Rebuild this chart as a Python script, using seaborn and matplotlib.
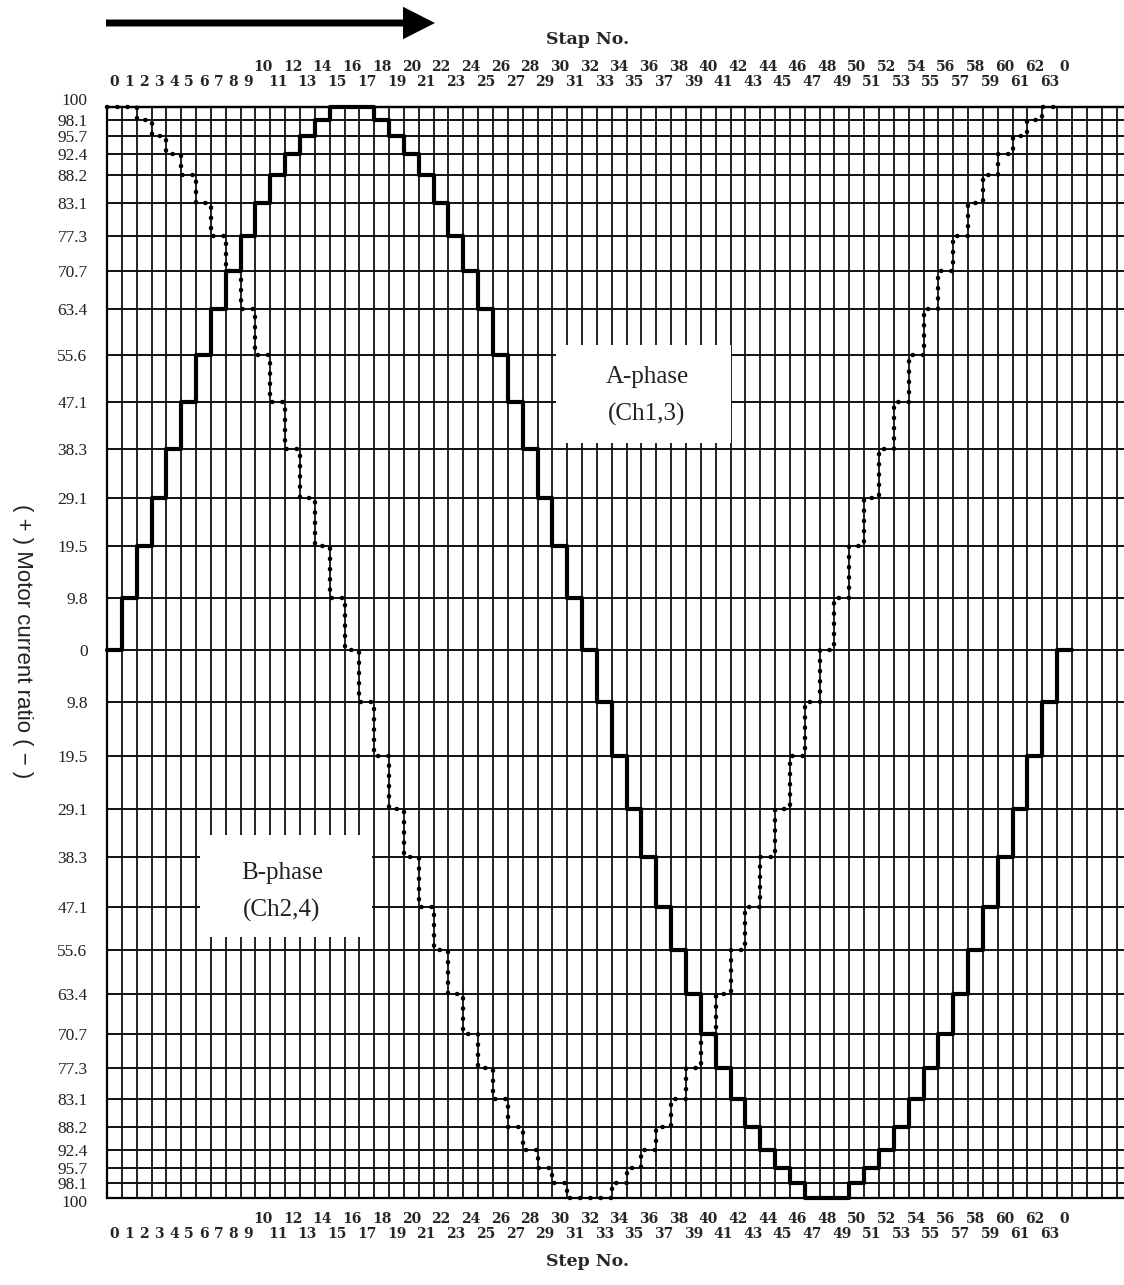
import numpy as np
import pandas as pd
import matplotlib
matplotlib.use('Agg')
import matplotlib.pyplot as plt
import matplotlib.transforms as mtransforms
import seaborn as sns
from matplotlib.patches import Rectangle

# --- Data ---
# current levels shown on the y axis (same on + and - side)
LEVELS = [0, 9.8, 19.5, 29.1, 38.3, 47.1, 55.6, 63.4, 70.7, 77.3, 83.1, 88.2,
          92.4, 95.7, 98.1, 100]
LEVEL_LABELS = ['0', '9.8', '19.5', '29.1', '38.3', '47.1', '55.6', '63.4', '70.7',
                '77.3', '83.1', '88.2', '92.4', '95.7', '98.1', '100']

# A-phase (Ch1,3), one value per step column 0..63 and back to step 0
A_PHASE = [0, 9.8, 19.5, 29.1, 38.3, 47.1, 55.6, 63.4, 70.7, 77.3, 83.1, 88.2, 92.4,
           95.7, 98.1, 100, 100, 100, 98.1, 95.7, 92.4, 88.2, 83.1, 77.3, 70.7, 63.4,
           55.6, 47.1, 38.3, 29.1, 19.5, 9.8, 0, -9.8, -19.5, -29.1, -38.3, -47.1,
           -55.6, -63.4, -70.7, -77.3, -83.1, -88.2, -92.4, -95.7, -98.1, -100, -100,
           -100, -98.1, -95.7, -92.4, -88.2, -83.1, -77.3, -70.7, -63.4, -55.6, -47.1,
           -38.3, -29.1, -19.5, -9.8, 0]

# B-phase (Ch2,4), step columns 0..63
B_PHASE = [100, 100, 98.1, 95.7, 92.4, 88.2, 83.1, 77.3, 70.7, 63.4, 55.6, 47.1, 38.3,
           29.1, 19.5, 9.8, 0, -9.8, -19.5, -29.1, -38.3, -47.1, -55.6, -63.4, -70.7,
           -77.3, -83.1, -88.2, -92.4, -95.7, -98.1, -100, -100, -100, -98.1, -95.7,
           -92.4, -88.2, -83.1, -77.3, -70.7, -63.4, -55.6, -47.1, -38.3, -29.1, -19.5,
           -9.8, 0, 9.8, 19.5, 29.1, 38.3, 47.1, 55.6, 63.4, 70.7, 77.3, 83.1, 88.2,
           92.4, 95.7, 98.1, 100]

# step number labels (64 steps then back to 0)
STEP_LABELS = [str(i) for i in range(64)] + ['0']
N_GRID_COLS = 68

# --- Layout ---
W, H = 1124, 1285
AX_L, AX_R, AX_T, AX_B = 107, 1124, 107, 1198
# the printed grid is not evenly spaced: pixel row of each level line, bottom (-100) to top (+100)
Y_LINE_PX = [1198, 1183, 1168, 1150, 1127, 1099, 1068, 1034, 994, 950, 907, 857, 809,
             756, 702, 650, 598, 546, 498, 449, 402, 355, 309, 271, 236, 203, 175, 154,
             136, 120, 107]


def step_frame(values):
    """Step table with the closing edge so steps-post draws the last column."""
    x = list(range(len(values))) + [len(values)]
    y = list(values) + [values[-1]]
    return pd.DataFrame({'step': x, 'ratio': y})


def px_to_axes(x, y):
    return (x - AX_L) / (AX_R - AX_L), (AX_B - y) / (AX_B - AX_T)


yticks = [-v for v in LEVELS[:0:-1]] + LEVELS
ylabels = LEVEL_LABELS[:0:-1] + LEVEL_LABELS

# piecewise linear y scale matching the printed grid
_v = np.array([-1000.0] + yticks + [1000.0])
_p = np.array([AX_B - y for y in Y_LINE_PX], dtype=float)
_p = np.concatenate([[_p[0] - 900 * 5.45], _p, [_p[-1] + 900 * 5.45]])


def y_forward(v):
    return np.interp(v, _v, _p)


def y_inverse(p):
    return np.interp(p, _p, _v)


sns.set_theme(style='white')
plt.rcParams['font.family'] = ['Liberation Serif', 'DejaVu Serif']

fig = plt.figure(figsize=(W / 100, H / 100), dpi=100)
ax = fig.add_axes([AX_L / W, 1 - AX_B / H, (AX_R - AX_L) / W, (AX_B - AX_T) / H])
ax.set_yscale('function', functions=(y_forward, y_inverse))

# grid
ax.vlines(np.arange(0, N_GRID_COLS + 1), -100, 100, colors='#111111', lw=1.3, zorder=1)
ax.set_yticks(yticks, ylabels, fontsize=12.5, fontfamily='Liberation Serif')
ax.yaxis.set_minor_locator(matplotlib.ticker.NullLocator())
ax.grid(axis='y', which='major', color='#111111', lw=1.4)
ax.tick_params(axis='y', length=0, pad=14, colors='#222222')

# the outer "100" labels sit a little off the border line, as printed
ylab = ax.get_yticklabels()
ylab[-1].set_transform(ylab[-1].get_transform() +
                       mtransforms.ScaledTranslation(0, 6 / 72, fig.dpi_scale_trans))
ylab[0].set_transform(ylab[0].get_transform() +
                      mtransforms.ScaledTranslation(0, -2 / 72, fig.dpi_scale_trans))

# white label boxes
for (x0, y0, x1, y1) in [(556, 345, 731, 443), (200, 835, 372, 937)]:
    ax0, ay0 = px_to_axes(x0, y1)
    ax1, ay1 = px_to_axes(x1, y0)
    ax.add_patch(Rectangle((ax0, ay0), ax1 - ax0, ay1 - ay0, transform=ax.transAxes,
                           facecolor='white', edgecolor='none', zorder=2))
ax.text(*px_to_axes(647, 396), 'A-phase\n(Ch1,3)', transform=ax.transAxes,
        ha='center', va='center', fontsize=18, linespacing=1.85, color='#222222', zorder=4)
ax.text(*px_to_axes(282, 892), 'B-phase\n(Ch2,4)', transform=ax.transAxes,
        ha='center', va='center', fontsize=18, linespacing=1.85, color='#222222', zorder=4)

# curves
sns.lineplot(data=step_frame(A_PHASE), x='step', y='ratio', drawstyle='steps-post',
             color='black', lw=3, ax=ax, clip_on=False, zorder=5)
sns.lineplot(data=step_frame(B_PHASE), x='step', y='ratio', drawstyle='steps-post',
             color='black', lw=3.2, linestyle=(0, (0.1, 2.2)), dash_capstyle='round',
             ax=ax, clip_on=False, zorder=5)

ax.set_xlim(0, N_GRID_COLS + 0.5)
ax.set_ylim(-100, 100)
ax.set_xlabel('')
ax.set_ylabel('')

# step number labels in two staggered rows
centers = np.arange(len(STEP_LABELS)) + 0.5
upper = [i for i in range(len(STEP_LABELS)) if (i >= 10 and i % 2 == 0)]
lower = [i for i in range(len(STEP_LABELS)) if i not in upper]
lab_kw = dict(fontsize=10, fontweight='bold', fontfamily='DejaVu Serif')

ax.set_xticks(centers[upper], [STEP_LABELS[i] for i in upper], **lab_kw)
ax.set_xticks(centers[lower], [STEP_LABELS[i] for i in lower], minor=True, **lab_kw)
ax.tick_params(axis='x', which='major', length=0, pad=10)
ax.tick_params(axis='x', which='minor', length=0, pad=21)

top = ax.secondary_xaxis('top')
top.set_xticks(centers[lower], [STEP_LABELS[i] for i in lower], **lab_kw)
top.set_xticks(centers[upper], [STEP_LABELS[i] for i in upper], minor=True, **lab_kw)
top.tick_params(axis='x', which='major', length=0, pad=13)
top.tick_params(axis='x', which='minor', length=0, pad=24)

for side in ['left', 'bottom', 'top']:
    ax.spines[side].set_color('black')
    ax.spines[side].set_linewidth(1.6)
ax.spines['right'].set_visible(False)
top.spines['top'].set_linewidth(1.6)
top.spines['top'].set_color('black')

fig.text(588 / W, 1 - 40 / H, 'Stap No.', ha='center', va='center', fontsize=12.5,
         fontweight='bold', fontfamily='DejaVu Serif')
fig.text(588 / W, 1 - 1262 / H, 'Step No.', ha='center', va='center', fontsize=12.5,
         fontweight='bold', fontfamily='DejaVu Serif')
fig.text(22 / W, 1 - 641 / H, '( + ) Motor current ratio ( \u2212 )', rotation=270,
         ha='center', va='center', fontsize=16, fontfamily='Liberation Sans', color='#222222')

# direction arrow
ax.annotate('', xy=(435 / W, 1 - 23 / H), xytext=(106 / W, 1 - 23 / H),
            xycoords='figure fraction', textcoords='figure fraction',
            arrowprops=dict(arrowstyle='-|>,head_length=0.75,head_width=0.38',
                            mutation_scale=20, lw=5, color='black', capstyle='butt',
                            joinstyle='miter', shrinkA=0, shrinkB=0))

fig.savefig('out.png', dpi=100)
